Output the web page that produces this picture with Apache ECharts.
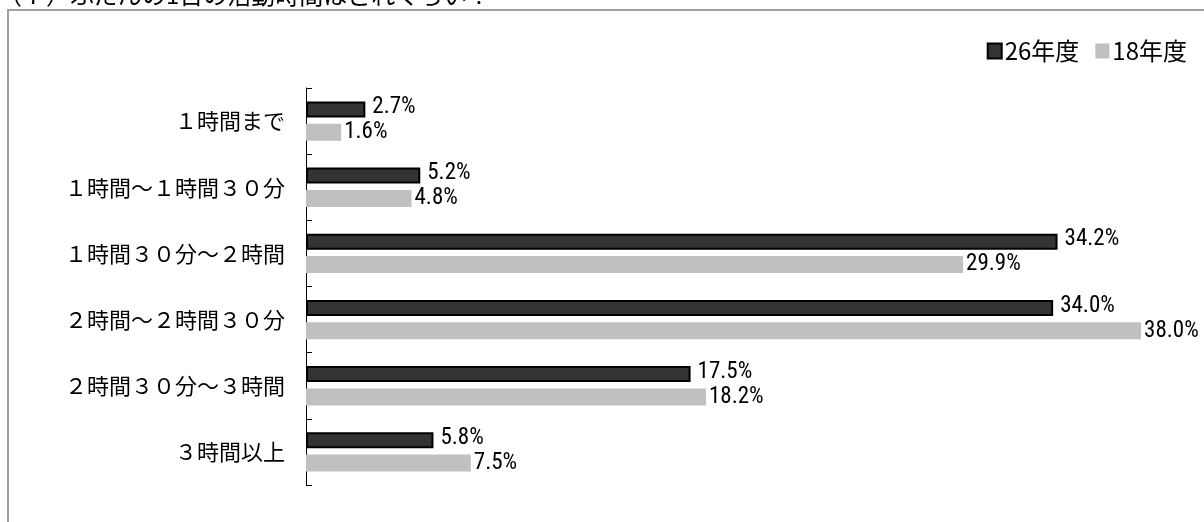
<!DOCTYPE html>
<html><head><meta charset="utf-8">
<script src="https://cdn.jsdelivr.net/npm/echarts@6/dist/echarts.min.js"></script>
<style>html,body{margin:0;padding:0;background:#fff}#c{width:1204px;height:522px}</style>
</head><body><div id="c"></div>
<script>
const categories = ['１時間まで','１時間～１時間３０分','１時間３０分～２時間','２時間～２時間３０分','２時間３０分～３時間','３時間以上'];
const seriesNames = ['26年度','18年度'];
const values26 = [2.7, 5.2, 34.2, 34.0, 17.5, 5.8];
const values18 = [1.6, 4.8, 29.9, 38.0, 18.2, 7.5];
const titleText = '（７）ふだんの1日の活動時間はどれくらい？';

const chart = echarts.init(document.getElementById('c'), null, {renderer:'canvas'});
const numFont = '"Liberation Sans Narrow","Roboto Condensed","Liberation Sans",sans-serif';
chart.setOption({
  animation:false,
  graphic:[
    {type:'text', x:-2, y:-17, style:{text:titleText, fill:'#000', font:'24px "Noto Sans CJK JP"', verticalAlign:'top'}},
    {type:'rect', shape:{x:8, y:10, width:1400, height:800}, style:{fill:'none', stroke:'#a0a0a0', lineWidth:2}}
  ],
  legend:{
    right:12, top:34, icon:'rect', itemWidth:14, itemHeight:15, itemGap:16,
    textStyle:{fontSize:24, color:'#000', fontFamily:'"Liberation Sans Narrow","Noto Sans CJK JP"', padding:[0,0,0,-2]},
    data:[{name:seriesNames[0], itemStyle:{color:'#333', borderColor:'#000', borderWidth:2}},
          {name:seriesNames[1], itemStyle:{color:'#c0c0c0'}}]
  },
  grid:{left:306, top:88, width:879, height:397, containLabel:false},
  xAxis:{type:'value', min:0, max:40, show:false},
  yAxis:{type:'category', data:categories, inverse:true,
    axisLine:{show:true, lineStyle:{color:'#000', width:1}},
    axisTick:{show:true, inside:true, length:6, lineStyle:{color:'#000'}},
    axisLabel:{fontSize:22, color:'#000', margin:21, fontFamily:'"Noto Sans CJK JP"'}
  },
  series:[
    {name:seriesNames[0], type:'bar', data:values26, barWidth:16, barGap:'40%',
     itemStyle:{color:'#333', borderColor:'#000', borderWidth:2},
     label:{show:true, position:'right', distance:7, offset:[0,-2], formatter:p=>p.value.toFixed(1)+'%', fontSize:23, color:'#000', fontFamily:numFont}},
    {name:seriesNames[1], type:'bar', data:values18, barWidth:17,
     itemStyle:{color:'#c0c0c0'},
     label:{show:true, position:'right', distance:3, offset:[0,0], formatter:p=>p.value.toFixed(1)+'%', fontSize:23, color:'#000', fontFamily:numFont}}
  ]
});
</script></body></html>
